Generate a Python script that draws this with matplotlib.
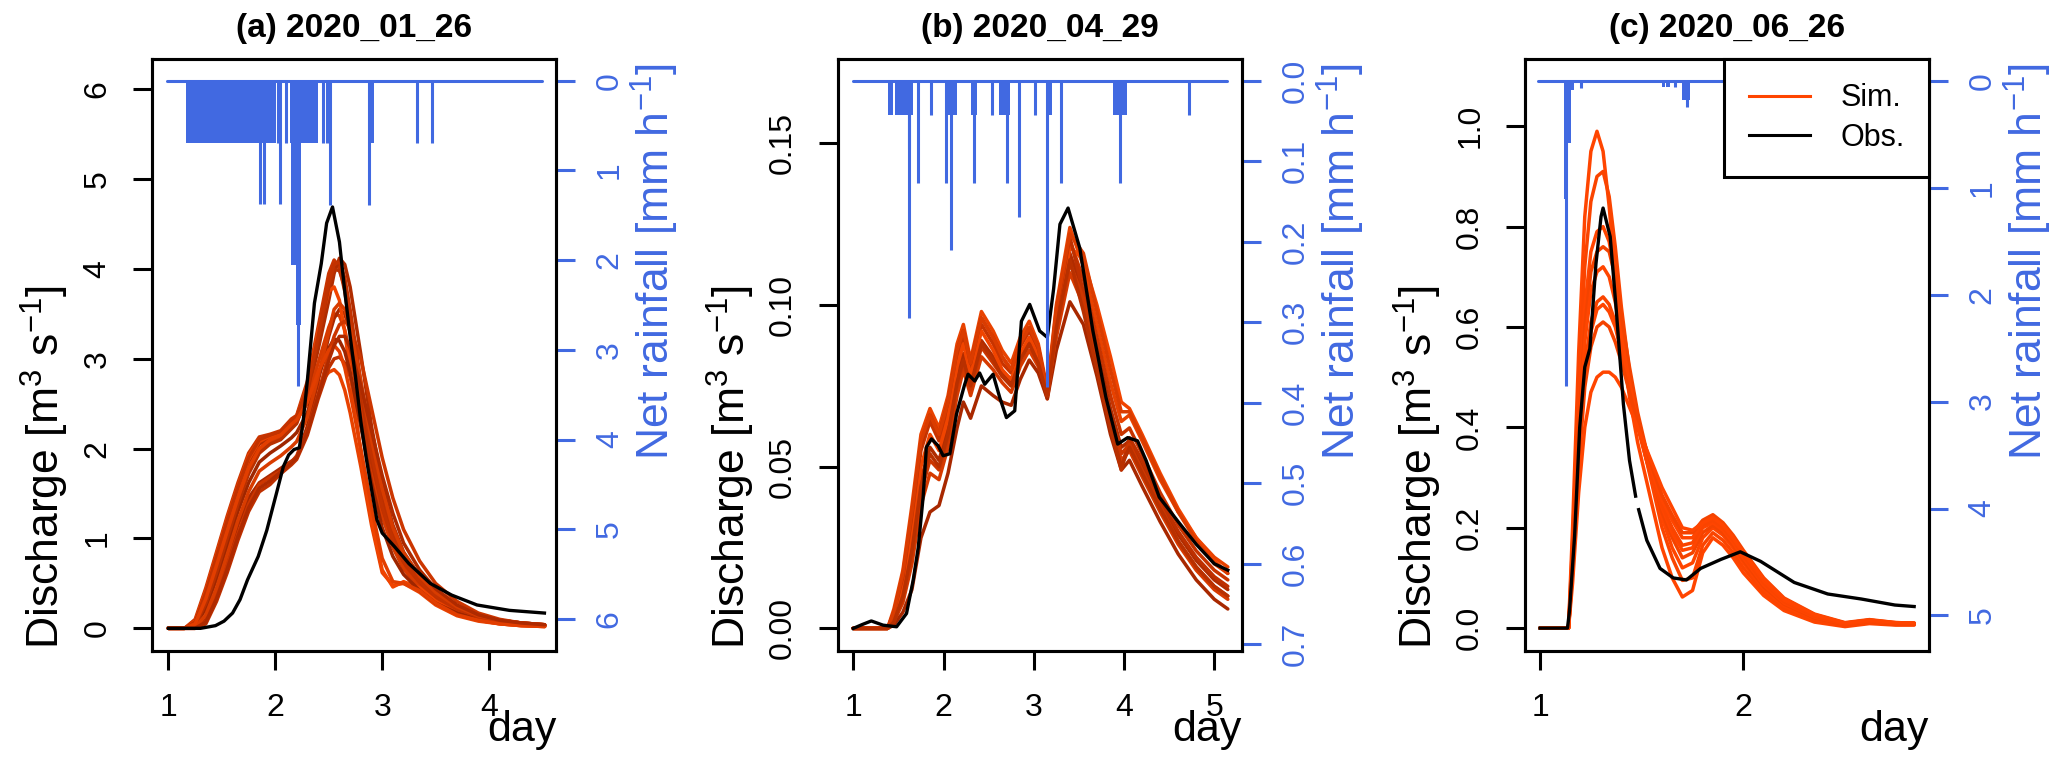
import numpy as np
import matplotlib
matplotlib.use('Agg')
import matplotlib.pyplot as plt
from matplotlib.lines import Line2D

plt.rcParams['font.family'] = ['Liberation Sans', 'DejaVu Sans']
plt.rcParams['mathtext.fontset'] = 'custom'
plt.rcParams['mathtext.rm'] = 'Liberation Sans'
plt.rcParams['mathtext.it'] = 'Liberation Sans'
plt.rcParams['mathtext.default'] = 'regular'

BLUE = '#4169E1'
SIM_COL = '#FF4500'

# ---------------- (a) 2020_01_26 ----------------
obs_a_t = [1.00, 1.30, 1.44, 1.52, 1.60, 1.67, 1.74, 1.84, 1.92, 2.01, 2.075, 2.125, 2.175, 2.225,
           2.26, 2.30, 2.366, 2.43, 2.48, 2.535, 2.60, 2.65, 2.70, 2.75, 2.80, 2.85, 2.90, 2.95, 3.00,
           3.115, 3.25, 3.45, 3.65, 3.887, 4.19, 4.518]
obs_a_q = [0.0, 0.0, 0.03, 0.08, 0.17, 0.32, 0.54, 0.80, 1.09, 1.50, 1.80, 1.93, 1.99, 2.01,
           2.30, 2.76, 3.62, 4.06, 4.51, 4.69, 4.30, 3.75, 3.25, 2.80, 2.30, 1.90, 1.55, 1.21, 1.06,
           0.91, 0.72, 0.50, 0.37, 0.26, 0.20, 0.17]

sim_a_t = [1.00, 1.15, 1.25, 1.35, 1.45, 1.55, 1.65, 1.75, 1.85, 1.95, 2.05, 2.15, 2.2, 2.3, 2.4, 2.5,
           2.55, 2.6, 2.65, 2.7, 2.8, 2.9, 3.0, 3.1, 3.2, 3.35, 3.5, 3.7, 3.9, 4.1, 4.3, 4.52]
sim_a = [
    [0, 0, 0.10, 0.45, 0.85, 1.25, 1.62, 1.95, 2.13, 2.16, 2.20, 2.33, 2.37, 2.75, 3.35, 3.95,
     4.10, 4.02, 3.75, 3.35, 2.55, 1.80, 1.25, 0.92, 0.70, 0.48, 0.33, 0.20, 0.12, 0.07, 0.05, 0.03],
    [0, 0, 0.05, 0.35, 0.72, 1.12, 1.50, 1.85, 2.05, 2.12, 2.18, 2.30, 2.35, 2.60, 3.10, 3.65,
     3.95, 4.12, 4.05, 3.80, 3.05, 2.25, 1.60, 1.15, 0.85, 0.58, 0.40, 0.25, 0.15, 0.09, 0.06, 0.04],
    [0, 0, 0.04, 0.30, 0.68, 1.05, 1.42, 1.75, 1.98, 2.08, 2.13, 2.25, 2.30, 2.55, 2.95, 3.35,
     3.50, 3.48, 3.32, 3.05, 2.40, 1.75, 1.25, 0.90, 0.66, 0.45, 0.30, 0.18, 0.11, 0.07, 0.05, 0.03],
    [0, 0, 0.06, 0.38, 0.78, 1.18, 1.55, 1.88, 2.08, 2.14, 2.17, 2.28, 2.33, 2.50, 2.70, 2.85,
     2.88, 2.82, 2.65, 2.40, 1.80, 1.15, 0.62, 0.48, 0.50, 0.40, 0.26, 0.14, 0.08, 0.05, 0.03, 0.02],
    [0, 0, 0, 0.10, 0.40, 0.78, 1.15, 1.45, 1.62, 1.70, 1.78, 1.86, 1.90, 2.25, 2.75, 3.25,
     3.45, 3.55, 3.50, 3.30, 2.70, 2.05, 1.50, 1.10, 0.82, 0.56, 0.38, 0.23, 0.14, 0.09, 0.06, 0.04],
    [0, 0, 0, 0.05, 0.30, 0.62, 0.98, 1.30, 1.52, 1.60, 1.72, 1.82, 1.88, 2.15, 2.55, 2.90,
     3.00, 3.02, 2.95, 2.80, 2.35, 1.85, 1.40, 1.05, 0.80, 0.55, 0.38, 0.22, 0.13, 0.08, 0.05, 0.03],
    [0, 0, 0.08, 0.42, 0.82, 1.22, 1.58, 1.92, 2.10, 2.14, 2.18, 2.30, 2.36, 2.70, 3.30, 3.75,
     3.80, 3.65, 3.30, 2.85, 1.95, 1.20, 0.65, 0.46, 0.52, 0.45, 0.30, 0.16, 0.09, 0.05, 0.03, 0.02],
    [0, 0, 0.02, 0.22, 0.55, 0.92, 1.30, 1.62, 1.85, 1.95, 2.03, 2.12, 2.18, 2.40, 2.80, 3.12,
     3.22, 3.20, 3.08, 2.85, 2.25, 1.62, 1.12, 0.80, 0.60, 0.42, 0.28, 0.17, 0.10, 0.06, 0.04, 0.03],
    [0, 0, 0, 0.08, 0.36, 0.70, 1.05, 1.38, 1.60, 1.68, 1.75, 1.85, 1.92, 2.20, 2.60, 3.05,
     3.25, 3.38, 3.42, 3.35, 3.00, 2.45, 1.90, 1.45, 1.10, 0.75, 0.50, 0.30, 0.17, 0.10, 0.06, 0.04],
    [0, 0, 0.03, 0.28, 0.62, 1.00, 1.38, 1.72, 1.95, 2.05, 2.10, 2.22, 2.28, 2.62, 3.20, 3.80,
     4.00, 3.98, 3.80, 3.45, 2.65, 1.90, 1.35, 0.98, 0.74, 0.52, 0.36, 0.22, 0.13, 0.08, 0.05, 0.03],
    [0, 0, 0.07, 0.40, 0.80, 1.20, 1.57, 1.90, 2.10, 2.15, 2.19, 2.31, 2.36, 2.68, 3.25, 3.85,
     4.05, 4.08, 3.90, 3.55, 2.75, 1.95, 1.35, 0.98, 0.74, 0.52, 0.36, 0.22, 0.13, 0.08, 0.05, 0.03],
    [0, 0, 0.01, 0.15, 0.45, 0.82, 1.20, 1.52, 1.75, 1.84, 1.92, 2.02, 2.08, 2.35, 2.80, 3.30,
     3.55, 3.62, 3.55, 3.35, 2.75, 2.10, 1.55, 1.12, 0.84, 0.58, 0.40, 0.24, 0.14, 0.09, 0.06, 0.04],
    [0, 0, 0.05, 0.33, 0.70, 1.08, 1.45, 1.78, 2.00, 2.10, 2.15, 2.27, 2.32, 2.52, 2.85, 3.10,
     3.15, 3.08, 2.90, 2.62, 2.00, 1.35, 0.78, 0.52, 0.50, 0.42, 0.28, 0.15, 0.09, 0.05, 0.03, 0.02],
    [0, 0, 0, 0.07, 0.33, 0.66, 1.02, 1.34, 1.56, 1.64, 1.74, 1.84, 1.90, 2.18, 2.58, 2.98,
     3.15, 3.25, 3.25, 3.12, 2.70, 2.20, 1.70, 1.28, 0.95, 0.65, 0.44, 0.26, 0.15, 0.09, 0.06, 0.04],
]
sim_a_col = ['#C83400', '#B02C00', '#D63A00', '#E84200', '#A82800', '#BE3000', '#F04400',
             '#9E2600', '#CC3600', '#B83000', '#C23200', '#D83C00', '#E23E00', '#AE2A00']

rain_a_base = [0.984, 4.495]
rain_a_blk_start = [1.162, 2.139, 2.150, 2.190, 2.872]
rain_a_blk_end = [2.009, 2.404, 2.190, 2.240, 2.925]
rain_a_blk_val = [0.69, 0.69, 2.05, 2.72, 0.69]
rain_a_spk_t = [1.858, 1.896, 2.029, 2.048, 2.101, 2.209, 2.445, 2.488, 2.513, 2.881, 3.325, 3.465]
rain_a_spk_v = [1.37, 1.37, 0.69, 1.37, 0.69, 3.40, 0.69, 0.69, 1.39, 1.39, 0.69, 0.69]

# ---------------- (b) 2020_04_29 ----------------
obs_b_t = [1.0, 1.10, 1.20, 1.33, 1.48, 1.59, 1.664, 1.72, 1.774, 1.81, 1.867, 1.94, 1.996, 2.07,
           2.144, 2.235, 2.272, 2.346, 2.40, 2.457, 2.549, 2.623, 2.697, 2.789, 2.863, 2.955, 3.065,
           3.15, 3.22, 3.29, 3.38, 3.51, 3.655, 3.80, 3.93, 4.04, 4.15, 4.245, 4.39, 4.6, 4.8, 5.0, 5.15]
obs_b_q = [0.0, 0.0012, 0.0023, 0.001, 0.0005, 0.0046, 0.0149, 0.025, 0.0406, 0.056, 0.0586, 0.0565,
           0.0534, 0.054, 0.0663, 0.0755, 0.0786, 0.0765, 0.079, 0.0755, 0.0786, 0.0714, 0.0652,
           0.0673, 0.095, 0.1002, 0.092, 0.090, 0.1050, 0.125, 0.130, 0.1176, 0.092, 0.0714, 0.057,
           0.059, 0.058, 0.0519, 0.0406, 0.033, 0.026, 0.020, 0.018]

sim_b_t = [1.0, 1.38, 1.45, 1.55, 1.65, 1.75, 1.85, 1.95, 2.05, 2.15, 2.22, 2.3, 2.42, 2.55, 2.65,
           2.75, 2.85, 2.95, 3.05, 3.15, 3.25, 3.4, 3.55, 3.7, 3.85, 3.97, 4.06, 4.2, 4.4, 4.6, 4.8,
           5.0, 5.15]
sim_b = [
    [0, 0, 0.006, 0.018, 0.038, 0.060, 0.068, 0.062, 0.072, 0.088, 0.094, 0.083, 0.098, 0.092, 0.086,
     0.082, 0.090, 0.095, 0.088, 0.074, 0.100, 0.124, 0.112, 0.094, 0.076, 0.064, 0.066, 0.058, 0.046,
     0.036, 0.028, 0.022, 0.019],
    [0, 0, 0.004, 0.015, 0.033, 0.055, 0.064, 0.058, 0.068, 0.084, 0.090, 0.080, 0.094, 0.088, 0.082,
     0.079, 0.087, 0.092, 0.086, 0.073, 0.097, 0.120, 0.108, 0.090, 0.072, 0.060, 0.062, 0.054, 0.042,
     0.032, 0.024, 0.018, 0.015],
    [0, 0, 0.003, 0.011, 0.026, 0.046, 0.056, 0.052, 0.062, 0.078, 0.085, 0.076, 0.089, 0.084, 0.079,
     0.076, 0.084, 0.089, 0.083, 0.072, 0.094, 0.116, 0.104, 0.086, 0.068, 0.056, 0.058, 0.050, 0.039,
     0.029, 0.021, 0.015, 0.012],
    [0, 0, 0.002, 0.008, 0.020, 0.038, 0.048, 0.046, 0.056, 0.072, 0.080, 0.072, 0.084, 0.080, 0.076,
     0.073, 0.081, 0.086, 0.081, 0.071, 0.090, 0.110, 0.100, 0.082, 0.064, 0.052, 0.055, 0.047, 0.036,
     0.026, 0.018, 0.012, 0.009],
    [0, 0, 0.001, 0.005, 0.012, 0.028, 0.036, 0.038, 0.048, 0.062, 0.070, 0.065, 0.075, 0.072, 0.070,
     0.069, 0.077, 0.083, 0.079, 0.071, 0.086, 0.101, 0.094, 0.078, 0.060, 0.049, 0.052, 0.044, 0.033,
     0.023, 0.015, 0.009, 0.006],
    [0, 0, 0.003, 0.013, 0.030, 0.050, 0.060, 0.055, 0.065, 0.081, 0.088, 0.078, 0.092, 0.086, 0.080,
     0.077, 0.085, 0.090, 0.084, 0.072, 0.092, 0.118, 0.114, 0.100, 0.084, 0.070, 0.068, 0.060, 0.048,
     0.037, 0.028, 0.021, 0.017],
    [0, 0, 0.005, 0.016, 0.035, 0.057, 0.066, 0.060, 0.070, 0.086, 0.092, 0.082, 0.096, 0.090, 0.084,
     0.080, 0.088, 0.093, 0.087, 0.073, 0.098, 0.121, 0.104, 0.082, 0.062, 0.049, 0.059, 0.052, 0.040,
     0.030, 0.022, 0.016, 0.013],
    [0, 0, 0.002, 0.009, 0.022, 0.042, 0.052, 0.049, 0.059, 0.075, 0.082, 0.074, 0.087, 0.082, 0.078,
     0.075, 0.083, 0.088, 0.082, 0.072, 0.092, 0.113, 0.102, 0.084, 0.066, 0.054, 0.057, 0.049, 0.038,
     0.027, 0.019, 0.013, 0.010],
    [0, 0, 0.005, 0.017, 0.036, 0.058, 0.066, 0.060, 0.070, 0.086, 0.092, 0.082, 0.096, 0.090, 0.084,
     0.080, 0.088, 0.093, 0.087, 0.073, 0.099, 0.122, 0.116, 0.098, 0.080, 0.067, 0.067, 0.059, 0.047,
     0.036, 0.027, 0.020, 0.017],
    [0, 0, 0.002, 0.010, 0.024, 0.044, 0.054, 0.050, 0.060, 0.076, 0.083, 0.075, 0.088, 0.083, 0.078,
     0.075, 0.083, 0.088, 0.082, 0.072, 0.093, 0.114, 0.098, 0.080, 0.062, 0.050, 0.056, 0.048, 0.037,
     0.027, 0.019, 0.013, 0.010],
]
sim_b_col = ['#E84200', '#C83400', '#B02C00', '#D63A00', '#A82800', '#F04400', '#BE3000', '#CC3600',
             '#DA3C00', '#B83000']

rain_b_base = [1.0, 5.14]
rain_b_blk_start = [1.387, 1.461, 2.014, 2.31, 2.615, 3.13, 3.875]
rain_b_blk_end = [1.442, 1.664, 2.144, 2.37, 2.741, 3.20, 4.03]
rain_b_blk_val = [0.042, 0.042, 0.042, 0.042, 0.042, 0.042, 0.042]
rain_b_spk_t = [1.615, 1.619, 1.712, 1.856, 2.025, 2.081, 2.335, 2.542, 2.704, 2.836, 3.010, 3.150,
                3.30, 3.95, 4.72]
rain_b_spk_v = [0.085, 0.295, 0.127, 0.042, 0.127, 0.210, 0.127, 0.042, 0.127, 0.169, 0.042, 0.380,
                0.127, 0.127, 0.042]

# ---------------- (c) 2020_06_26 ----------------
obs_c_t = [1.0, 1.135, 1.145, 1.17, 1.195, 1.22, 1.245, 1.275, 1.30, 1.31, 1.345, 1.375, 1.41, 1.44,
           1.47, 1.478, 1.485, 1.525, 1.59, 1.655, 1.72, 1.79, 1.89, 1.985, 2.085, 2.25, 2.415, 2.58,
           2.745, 2.84]
obs_c_q = [0.0, 0.0, 0.035, 0.184, 0.40, 0.52, 0.557, 0.726, 0.82, 0.837, 0.78, 0.633, 0.446, 0.334,
           0.263, np.nan, 0.236, 0.175, 0.119, 0.100, 0.096, 0.119, 0.137, 0.152, 0.133, 0.091, 0.068,
           0.058, 0.046, 0.043]

sim_c_t = [1.0, 1.14, 1.16, 1.19, 1.22, 1.25, 1.28, 1.31, 1.34, 1.37, 1.40, 1.44, 1.48, 1.52, 1.56,
           1.60, 1.65, 1.70, 1.75, 1.80, 1.85, 1.90, 1.95, 2.0, 2.1, 2.2, 2.35, 2.5, 2.62, 2.75, 2.84]
sim_c = [
    [0, 0, 0.20, 0.55, 0.82, 0.95, 0.99, 0.95, 0.84, 0.70, 0.58, 0.46, 0.37, 0.30, 0.23, 0.16,
     0.10, 0.062, 0.075, 0.15, 0.18, 0.165, 0.14, 0.11, 0.065, 0.035, 0.012, 0.003, 0.009, 0.006, 0.006],
    [0, 0, 0.17, 0.48, 0.72, 0.85, 0.90, 0.91, 0.86, 0.76, 0.64, 0.51, 0.41, 0.34, 0.27, 0.20,
     0.14, 0.095, 0.10, 0.165, 0.19, 0.175, 0.15, 0.12, 0.072, 0.04, 0.016, 0.005, 0.011, 0.007, 0.007],
    [0, 0, 0.15, 0.43, 0.64, 0.75, 0.79, 0.80, 0.77, 0.70, 0.61, 0.50, 0.41, 0.34, 0.28, 0.22,
     0.16, 0.12, 0.13, 0.18, 0.20, 0.185, 0.16, 0.13, 0.078, 0.044, 0.018, 0.006, 0.012, 0.008, 0.008],
    [0, 0, 0.14, 0.40, 0.60, 0.71, 0.75, 0.76, 0.75, 0.70, 0.62, 0.52, 0.43, 0.36, 0.29, 0.23,
     0.18, 0.14, 0.15, 0.19, 0.205, 0.19, 0.165, 0.135, 0.082, 0.048, 0.02, 0.007, 0.013, 0.008, 0.008],
    [0, 0, 0.13, 0.38, 0.57, 0.67, 0.71, 0.72, 0.70, 0.65, 0.58, 0.49, 0.41, 0.35, 0.29, 0.24,
     0.19, 0.155, 0.16, 0.20, 0.21, 0.195, 0.17, 0.14, 0.086, 0.05, 0.022, 0.008, 0.014, 0.009, 0.009],
    [0, 0, 0.12, 0.35, 0.52, 0.61, 0.65, 0.66, 0.645, 0.61, 0.55, 0.47, 0.40, 0.34, 0.29, 0.245,
     0.20, 0.165, 0.17, 0.205, 0.215, 0.20, 0.175, 0.145, 0.09, 0.053, 0.024, 0.009, 0.015, 0.01, 0.009],
    [0, 0, 0.12, 0.34, 0.50, 0.59, 0.635, 0.645, 0.63, 0.60, 0.55, 0.48, 0.41, 0.355, 0.30, 0.255,
     0.215, 0.18, 0.18, 0.21, 0.222, 0.205, 0.18, 0.15, 0.095, 0.056, 0.026, 0.01, 0.016, 0.01, 0.01],
    [0, 0, 0.11, 0.32, 0.48, 0.56, 0.60, 0.61, 0.60, 0.57, 0.53, 0.47, 0.41, 0.36, 0.31, 0.265,
     0.225, 0.19, 0.19, 0.215, 0.226, 0.21, 0.185, 0.155, 0.10, 0.06, 0.028, 0.011, 0.017, 0.011, 0.01],
    [0, 0, 0.09, 0.27, 0.40, 0.47, 0.50, 0.51, 0.51, 0.50, 0.48, 0.44, 0.40, 0.36, 0.32, 0.28,
     0.24, 0.20, 0.195, 0.21, 0.22, 0.205, 0.18, 0.15, 0.098, 0.058, 0.027, 0.01, 0.016, 0.011, 0.01],
]
sim_c_col = ['#FF4500', '#FA4400', '#FF4500', '#F44300', '#FF4500', '#FA4400', '#FF4500',
             '#F44300', '#FF4500']

rain_c_base = [0.99, 2.84]
rain_c_blk_start = [1.118, 1.137, 1.123, 1.599, 1.620, 1.697]
rain_c_blk_end = [1.135, 1.152, 1.165, 1.615, 1.640, 1.738]
rain_c_blk_val = [1.10, 0.585, 0.087, 0.056, 0.056, 0.18]
rain_c_spk_t = [1.128, 1.203, 1.664, 1.725]
rain_c_spk_v = [2.85, 0.07, 0.056, 0.243]

titles = ['(a) 2020_01_26', '(b) 2020_04_29', '(c) 2020_06_26']

panels = [
    dict(obs=(obs_a_t, obs_a_q), sim_t=sim_a_t, sims=sim_a, cols=sim_a_col,
         rain=(rain_a_base, rain_a_blk_start, rain_a_blk_end, rain_a_blk_val, rain_a_spk_t, rain_a_spk_v),
         xlim=(0.849, 4.629), xt=[1, 2, 3, 4],
         ylim=(-0.249, 6.337), yt=[0, 1, 2, 3, 4, 5, 6], yfmt='%d',
         rlim=(6.354, -0.242), rt=[0, 1, 2, 3, 4, 5, 6], rfmt='%d'),
    dict(obs=(obs_b_t, obs_b_q), sim_t=sim_b_t, sims=sim_b, cols=sim_b_col,
         rain=(rain_b_base, rain_b_blk_start, rain_b_blk_end, rain_b_blk_val, rain_b_spk_t, rain_b_spk_v),
         xlim=(0.831, 5.307), xt=[1, 2, 3, 4, 5],
         ylim=(-0.0069, 0.1761), yt=[0.0, 0.05, 0.10, 0.15], yfmt='%.2f',
         rlim=(0.708, -0.027), rt=[0.0, 0.1, 0.2, 0.3, 0.4, 0.5, 0.6, 0.7], rfmt='%.1f'),
    dict(obs=(obs_c_t, obs_c_q), sim_t=sim_c_t, sims=sim_c, cols=sim_c_col,
         rain=(rain_c_base, rain_c_blk_start, rain_c_blk_end, rain_c_blk_val, rain_c_spk_t, rain_c_spk_v),
         xlim=(0.926, 2.913), xt=[1, 2],
         ylim=(-0.045, 1.134), yt=[0.0, 0.2, 0.4, 0.6, 0.8, 1.0], yfmt='%.1f',
         rlim=(5.33, -0.205), rt=[0, 1, 2, 3, 4, 5], rfmt='%d'),
]

W, H = 2067, 764
lefts = [152.3, 838, 1525]
fig = plt.figure(figsize=(W / 100, H / 100), dpi=100)

LW = 2.2
for i, p in enumerate(panels):
    ax = fig.add_axes([lefts[i] / W, (H - 650.7) / H, 404 / W, (650.7 - 59) / H])
    for q, c in zip(p['sims'], p['cols']):
        ax.plot(p['sim_t'], q, color=c, lw=2.5, solid_joinstyle='round', solid_capstyle='round')
    ax.plot(p['obs'][0], p['obs'][1], color='black', lw=2.4, solid_joinstyle='round')
    ax.set_xlim(p['xlim'])
    ax.set_ylim(p['ylim'])
    ax.set_xticks(p['xt'], labels=[str(v) for v in p['xt']])
    ax.set_yticks(p['yt'], labels=[p['yfmt'] % v for v in p['yt']], rotation=90, va='center')
    ax.tick_params(axis='both', length=13.7, width=LW, labelsize=23)
    ax.tick_params(axis='x', pad=17)
    ax.tick_params(axis='y', pad=15)
    for s in ax.spines.values():
        s.set_linewidth(LW)

    ax2 = ax.twinx()
    base, bs, be, bv, st, sv = p['rain']
    ax2.plot(base, [0, 0], color=BLUE, lw=LW, solid_capstyle='round')
    ax2.bar(bs, bv, width=np.subtract(be, bs), align='edge', color=BLUE, linewidth=0)
    ax2.vlines(st, 0, sv, color=BLUE, lw=LW)
    ax2.set_ylim(p['rlim'])
    ax2.set_yticks(p['rt'], labels=[p['rfmt'] % v for v in p['rt']], rotation=90, va='center')
    ax2.tick_params(axis='y', colors=BLUE, length=13.7, width=LW, labelsize=23, pad=14)
    for s in ax2.spines.values():
        s.set_linewidth(LW)

    ax.text(-0.265, 0.31, 'Discharge [m$^3$ s$^{-1}$]', rotation=90, ha='center', va='center',
            fontsize=32, transform=ax.transAxes)
    ax2.text(1.244, 0.658, 'Net rainfall [mm h$^{-1}$]', rotation=90, ha='center', va='center',
             fontsize=32, color=BLUE, transform=ax2.transAxes)
    ax.text(1.0, -0.152, 'day', ha='right', va='baseline', fontsize=31, transform=ax.transAxes)
    ax.text(0.5, 1.0377, titles[i], ha='center', va='baseline', fontsize=24, fontweight='bold',
            transform=ax.transAxes)

    if i == 2:
        handles = [Line2D([], [], color=SIM_COL, lw=LW), Line2D([], [], color='black', lw=LW)]
        leg = ax2.legend(handles, ['Sim.', 'Obs.'], loc='upper right', bbox_to_anchor=(1, 1),
                         borderaxespad=0, fancybox=False, edgecolor='black', framealpha=1,
                         fontsize=22, handlelength=2.0, handletextpad=1.0, borderpad=0.8,
                         labelspacing=0.3)
        leg.get_frame().set_linewidth(LW)

fig.savefig('out.png', dpi=100)
